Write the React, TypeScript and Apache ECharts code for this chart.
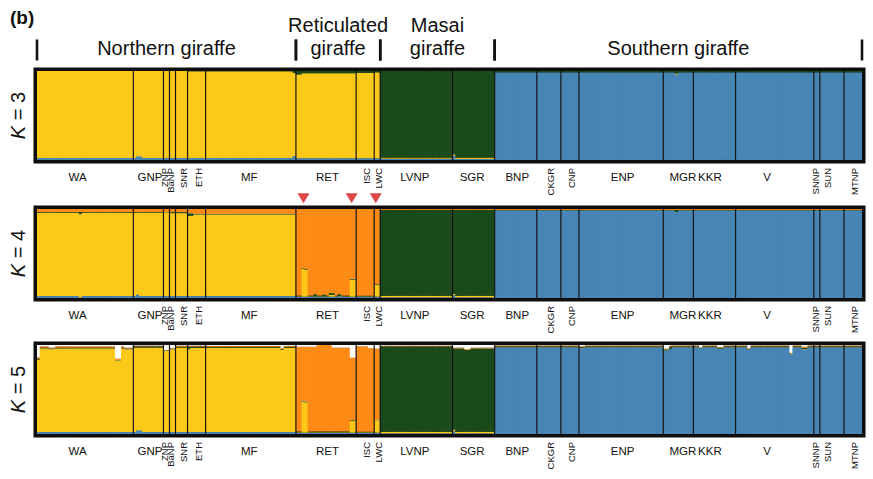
import React, { useEffect, useRef } from "react";
import * as echarts from "echarts";

const FONT = '"Liberation Sans", Arial, Helvetica, sans-serif';

// ---------------- data ----------------
const populations = ["WA", "GNP", "ZNP", "BaNP", "SNR", "ETH", "MF", "RET", "ISC", "LWC", "LVNP", "SGR", "BNP", "CKGR", "CNP", "ENP", "MGR", "KKR", "V", "SNNP", "SUN", "MTNP"];
const sampleSizes = [32, 10, 2, 2, 4, 6, 30, 20, 6, 2, 24, 14, 14, 8, 6, 28, 10, 14, 26, 2, 8, 6];
// 0 = horizontal label, 1 / 2 = vertical label (two rows so close neighbours both show)
const labelKind = [0, 0, 2, 1, 2, 1, 0, 0, 1, 2, 0, 0, 0, 1, 2, 0, 0, 0, 0, 1, 2, 1];
const labelAnchor = [13, 5, 0, 0, 2, 3, 14, 10, 3, 1, 11, 6, 7, 4, 3, 14, 6, 5, 10, 0, 2, 3];

const speciesNames = ["Northern giraffe", "Reticulated\ngiraffe", "Masai\ngiraffe", "Southern giraffe"];
const speciesFirstPop = [0, 7, 10, 12];
const speciesLastPop = [6, 9, 11, 21];

// cluster colours in stacking order (bottom -> top)
const clusterColors = ["#4685B5", "#FCC918", "#1A4A1A", "#FD8B16", "#FFFFFF"];
const kValues = [3, 4, 5];

// marked individuals (red triangles above K = 4)
const markedIndividuals: [string, number][] = [["RET", 2], ["RET", 18], ["LWC", 0]];

// base memberships per population: [blue, yellow, green]
const baseK3 = [
  [0.022, 0.978, 0], [0.022, 0.978, 0], [0.022, 0.978, 0], [0.022, 0.978, 0], [0.022, 0.978, 0],
  [0.022, 0.975, 0.003], [0.022, 0.975, 0.003],
  [0.02, 0.955, 0.025], [0.02, 0.96, 0.02], [0.02, 0.965, 0.015],
  [0.015, 0.012, 0.973], [0.012, 0.015, 0.973],
  [0.985, 0, 0.015], [0.985, 0, 0.015], [0.985, 0, 0.015], [0.985, 0, 0.015], [0.985, 0, 0.015],
  [0.985, 0, 0.015], [0.985, 0, 0.015], [0.985, 0, 0.015], [0.985, 0, 0.015], [0.985, 0, 0.015],
];
// [blue, yellow, green, orange]
const baseK4 = [
  [0.022, 0.935, 0.008, 0.035], [0.022, 0.935, 0.008, 0.035], [0.022, 0.94, 0.003, 0.035],
  [0.022, 0.93, 0.013, 0.035], [0.022, 0.93, 0.013, 0.035], [0.022, 0.915, 0.008, 0.055],
  [0.022, 0.915, 0.008, 0.055],
  [0.015, 0.004, 0.008, 0.973], [0.015, 0.004, 0.006, 0.975], [0.015, 0.13, 0.01, 0.845],
  [0.008, 0.018, 0.964, 0.01], [0.008, 0.018, 0.964, 0.01],
  [0.985, 0.002, 0.003, 0.01], [0.985, 0.002, 0.003, 0.01], [0.985, 0.002, 0.003, 0.01],
  [0.985, 0.002, 0.003, 0.01], [0.985, 0.002, 0.003, 0.01], [0.985, 0.002, 0.003, 0.01],
  [0.985, 0.002, 0.003, 0.01], [0.985, 0.002, 0.003, 0.01], [0.985, 0.002, 0.003, 0.01],
  [0.985, 0.002, 0.003, 0.01],
];
// [blue, yellow, green, orange, white]
const baseK5 = [
  [0.022, 0.94, 0.008, 0.015, 0.015], [0.022, 0.95, 0.013, 0.008, 0.007], [0.022, 0.91, 0.008, 0.005, 0.055],
  [0.022, 0.93, 0.008, 0.005, 0.035], [0.022, 0.95, 0.008, 0.012, 0.008], [0.022, 0.945, 0.015, 0.01, 0.008],
  [0.022, 0.948, 0.01, 0.01, 0.01],
  [0.015, 0.005, 0.008, 0.952, 0.02], [0.015, 0.005, 0.005, 0.96, 0.015], [0.015, 0.14, 0.005, 0.8, 0.04],
  [0.008, 0.018, 0.958, 0.008, 0.008], [0.008, 0.018, 0.935, 0.009, 0.03],
  [0.975, 0.002, 0.008, 0.01, 0.005], [0.975, 0.002, 0.008, 0.01, 0.005], [0.975, 0.002, 0.008, 0.01, 0.005],
  [0.975, 0.002, 0.008, 0.01, 0.005], [0.975, 0.002, 0.008, 0.01, 0.005], [0.975, 0.002, 0.008, 0.01, 0.005],
  [0.975, 0.002, 0.008, 0.01, 0.005], [0.975, 0.002, 0.008, 0.01, 0.005], [0.975, 0.002, 0.008, 0.01, 0.005],
  [0.975, 0.002, 0.008, 0.01, 0.005],
];

// individual deviations: [population, first individual, last individual, membership]
type Override = [string, number, number, number[]];
const overridesK3: Override[] = [
  ["GNP", 1, 2, [0.04, 0.96, 0]],
  ["MF", 29, 29, [0.045, 0.935, 0.02]],
  ["RET", 0, 1, [0.02, 0.94, 0.04]],
  ["SGR", 0, 0, [0.045, 0.015, 0.94]],
  ["MGR", 4, 4, [0.96, 0.012, 0.028]],
];
const overridesK4: Override[] = [
  ["WA", 14, 14, [0.005, 0.937, 0.025, 0.033]],
  ["GNP", 1, 1, [0.04, 0.917, 0.008, 0.035]],
  ["ETH", 0, 1, [0.022, 0.9, 0.03, 0.048]],
  ["RET", 2, 2, [0.015, 0.31, 0.01, 0.665]],
  ["RET", 3, 3, [0.015, 0.3, 0.01, 0.675]],
  ["RET", 6, 6, [0.015, 0.004, 0.025, 0.956]],
  ["RET", 9, 9, [0.015, 0.004, 0.02, 0.961]],
  ["RET", 11, 12, [0.015, 0.02, 0.02, 0.945]],
  ["RET", 14, 14, [0.02, 0.004, 0.02, 0.956]],
  ["RET", 18, 19, [0.015, 0.19, 0.01, 0.785]],
  ["SGR", 0, 0, [0.03, 0.015, 0.945, 0.01]],
  ["MGR", 4, 4, [0.965, 0.002, 0.023, 0.01]],
];
const overridesK5: Override[] = [
  ["WA", 0, 0, [0.022, 0.815, 0.008, 0.015, 0.14]],
  ["WA", 4, 5, [0.022, 0.93, 0.008, 0.01, 0.03]],
  ["WA", 26, 27, [0.022, 0.805, 0.008, 0.015, 0.15]],
  ["WA", 29, 31, [0.022, 0.93, 0.008, 0.01, 0.03]],
  ["GNP", 1, 2, [0.04, 0.932, 0.013, 0.008, 0.007]],
  ["ETH", 0, 0, [0.022, 0.93, 0.03, 0.01, 0.008]],
  ["MF", 25, 25, [0.022, 0.923, 0.01, 0.01, 0.035]],
  ["RET", 2, 2, [0.015, 0.35, 0.01, 0.605, 0.02]],
  ["RET", 3, 3, [0.015, 0.34, 0.01, 0.615, 0.02]],
  ["RET", 7, 11, [0.015, 0.005, 0.008, 0.972, 0]],
  ["RET", 12, 17, [0.015, 0.005, 0.008, 0.942, 0.03]],
  ["RET", 18, 19, [0.015, 0.13, 0.01, 0.705, 0.14]],
  ["ISC", 4, 5, [0.015, 0.005, 0.005, 0.94, 0.035]],
  ["SGR", 0, 0, [0.03, 0.018, 0.913, 0.009, 0.03]],
  ["SGR", 4, 5, [0.008, 0.018, 0.92, 0.009, 0.045]],
  ["ENP", 0, 1, [0.965, 0.002, 0.008, 0.01, 0.015]],
  ["MGR", 0, 1, [0.935, 0.002, 0.015, 0.008, 0.04]],
  ["MGR", 2, 2, [0.955, 0.002, 0.025, 0.01, 0.008]],
  ["KKR", 2, 2, [0.96, 0.002, 0.008, 0, 0.03]],
  ["KKR", 8, 9, [0.957, 0.002, 0.008, 0.008, 0.025]],
  ["V", 4, 4, [0.947, 0.002, 0.008, 0.008, 0.035]],
  ["V", 18, 18, [0.893, 0.002, 0.01, 0.01, 0.085]],
  ["V", 22, 23, [0.95, 0.002, 0.015, 0.013, 0.02]],
];

// ---------------- derived ----------------
const popStart: number[] = [];
{
  let acc = 0;
  sampleSizes.forEach((n) => { popStart.push(acc); acc += n; });
}
const individuals: string[] = [];
populations.forEach((p, pi) => {
  for (let j = 0; j < sampleSizes[pi]; j++) individuals.push(p + "_" + (j + 1));
});
const labelSets = [new Set<number>(), new Set<number>(), new Set<number>()];
populations.forEach((p, pi) => {
  labelSets[labelKind[pi]].add(popStart[pi] + labelAnchor[pi]);
});

function buildMembership(base: number[][], overrides: Override[]) {
  const rows: number[][] = [];
  populations.forEach((p, pi) => {
    for (let j = 0; j < sampleSizes[pi]; j++) rows.push(base[pi].slice());
  });
  overrides.forEach(([pop, from, to, vals]) => {
    const s = popStart[populations.indexOf(pop)];
    for (let j = from; j <= to; j++) rows[s + j] = vals.slice();
  });
  return rows;
}

const panelData = [
  buildMembership(baseK3, overridesK3),
  buildMembership(baseK4, overridesK4),
  buildMembership(baseK5, overridesK5),
];
const panelTops = [71, 209, 345];
const AXES_PER_PANEL = 3;

function buildOption() {
  const grid: any[] = [];
  const xAxis: any[] = [];
  const yAxis: any[] = [];
  const series: any[] = [];

  kValues.forEach((k, g) => {
    grid.push({
      left: 35, top: panelTops[g], width: 827, height: 89,
      show: true, borderColor: "#0d0d0d", borderWidth: 7, backgroundColor: "transparent",
    });
    const baseAxis = {
      type: "category", gridIndex: g, data: individuals, boundaryGap: true, position: "bottom",
      axisLine: { show: false }, axisTick: { show: false }, splitLine: { show: false },
    };
    for (let a = 0; a < AXES_PER_PANEL; a++) {
      const set = labelSets[a];
      xAxis.push({
        ...baseAxis,
        axisLabel: a === 0
          ? {
            interval: (i: number) => set.has(i),
            formatter: (v: string) => v.split("_")[0],
            hideOverlap: false,
            margin: 11, fontSize: 11.5, color: "#111", fontFamily: FONT,
          }
          : {
            interval: (i: number) => set.has(i),
            formatter: (v: string) => v.split("_")[0],
            hideOverlap: false,
            rotate: 90, margin: 8, fontSize: 9.5, color: "#111", fontFamily: FONT,
          },
      });
    }
    yAxis.push({
      type: "value", gridIndex: g, min: 0, max: 1,
      axisLine: { show: false }, axisTick: { show: false }, axisLabel: { show: false }, splitLine: { show: false },
      name: "{i|K} = " + k, nameLocation: "middle", nameRotate: 90, nameGap: 9,
      nameTextStyle: {
        fontSize: 20, color: "#111", fontFamily: FONT,
        rich: { i: { fontStyle: "italic", fontSize: 20, color: "#111", fontFamily: FONT } },
      },
    });

    const xi = AXES_PER_PANEL * g;
    // stacked membership bars (one stacked column per individual)
    const rows = panelData[g];
    series.push({
      type: "custom", xAxisIndex: xi, yAxisIndex: g, z: 2, silent: true, clip: true,
      data: rows.map((r, i) => [i, ...r]),
      encode: { x: 0 },
      renderItem: (params: any, api: any) => {
        const i = api.value(0);
        const w = api.size([1, 0])[0];
        const cx = api.coord([i, 0])[0];
        const children: any[] = [];
        let acc = 0;
        for (let c = 0; c < k; c++) {
          const v = api.value(c + 1);
          if (!(v > 0)) continue;
          const y0 = api.coord([i, acc])[1];
          const y1 = api.coord([i, Math.min(1, acc + v)])[1];
          children.push({
            type: "rect",
            shape: { x: cx - w / 2 - 0.35, y: y1, width: w + 0.7, height: y0 - y1 },
            style: { fill: clusterColors[c] },
          });
          acc += v;
        }
        return { type: "group", children };
      },
    });
    // population separators
    series.push({
      type: "custom", xAxisIndex: xi, yAxisIndex: g, z: 5, silent: true,
      data: popStart.slice(1).map((s) => [s, 0]),
      encode: { x: 0, y: 1 },
      renderItem: (params: any, api: any) => {
        const i = api.value(0);
        const w = api.size([1, 0])[0];
        const pb = api.coord([i, 0]);
        const pt = api.coord([i, 1]);
        const x = pb[0] - w / 2;
        return {
          type: "line",
          shape: { x1: x, y1: pt[1], x2: x, y2: pb[1] },
          style: { stroke: "#141414", lineWidth: 1.2 },
        };
      },
    });
  });

  // species header above K = 3
  series.push({
    type: "custom", xAxisIndex: 0, yAxisIndex: 0, z: 6, silent: true, clip: false,
    data: speciesFirstPop.map((fp, s) => [popStart[fp], popStart[speciesLastPop[s]] + sampleSizes[speciesLastPop[s]] - 1, s]),
    encode: { x: 0 },
    renderItem: (params: any, api: any) => {
      const a = api.value(0);
      const b = api.value(1);
      const s = api.value(2);
      const w = api.size([1, 0])[0];
      const pa = api.coord([a, 1]);
      const pb = api.coord([b, 1]);
      const x0 = pa[0] - w / 2;
      const x1 = pb[0] + w / 2;
      const top = pa[1];
      return {
        type: "group",
        children: [
          { type: "rect", shape: { x: x0 - 1.3, y: top - 31.5, width: 2.6, height: 21 }, style: { fill: "#111" } },
          { type: "rect", shape: { x: x1 - 1.3, y: top - 31.5, width: 2.6, height: 21 }, style: { fill: "#111" } },
          {
            type: "text",
            style: {
              text: speciesNames[s], x: (x0 + x1) / 2, y: top - 11.5,
              align: "center", verticalAlign: "bottom",
              fontSize: 20, lineHeight: 23, fontFamily: FONT, fill: "#111",
            },
          },
        ],
      };
    },
  });

  // red triangles above K = 4
  series.push({
    type: "scatter", xAxisIndex: AXES_PER_PANEL, yAxisIndex: 1, clip: false, silent: true, z: 6,
    symbol: "triangle", symbolRotate: 180, symbolSize: [12, 10],
    itemStyle: { color: "#D7191C" },
    data: markedIndividuals.map(([p, j]) => [popStart[populations.indexOf(p)] + j, 1.12]),
  });

  return {
    animation: false,
    backgroundColor: "#ffffff",
    grid, xAxis, yAxis, series,
    graphic: [
      {
        type: "text", left: 10, top: 8,
        style: { text: "(b)", fontSize: 19, fontWeight: "bold", fontFamily: FONT, fill: "#111" },
      },
    ],
  };
}

export default function App() {
  const ref = useRef<HTMLDivElement>(null);
  useEffect(() => {
    if (!ref.current) return;
    const chart = echarts.init(ref.current, undefined, { renderer: "svg" });
    chart.setOption(buildOption() as any);
    return () => chart.dispose();
  }, []);
  return <div ref={ref} style={{ position: "fixed", left: 0, top: 0, width: 873, height: 479 }} />;
}
